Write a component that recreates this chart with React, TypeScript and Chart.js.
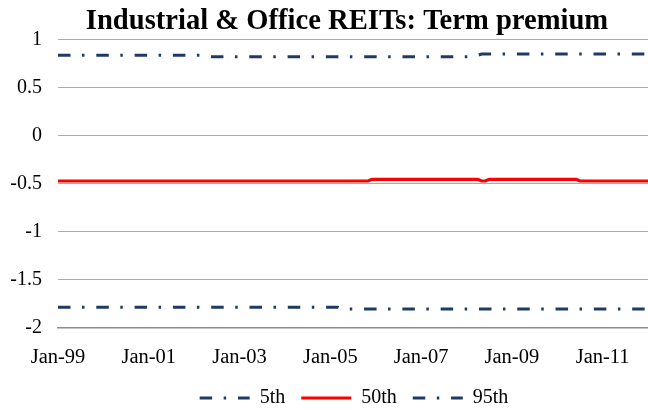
import React, { useEffect, useRef } from "react";
import { Chart, registerables } from "chart.js";

Chart.register(...registerables);

const TITLE = "Industrial & Office REITs: Term premium";

const MONTHS = ["Jan", "Feb", "Mar", "Apr", "May", "Jun", "Jul", "Aug", "Sep", "Oct", "Nov", "Dec"];
const YEARS = ["99", "00", "01", "02", "03", "04", "05", "06", "07", "08", "09", "10", "11", "12"];

const xTickLabels = ["Jan-99", "Jan-01", "Jan-03", "Jan-05", "Jan-07", "Jan-09", "Jan-11"];
const yTickLabels = ["1", "0.5", "0", "-0.5", "-1", "-1.5", "-2"];

const seriesNames = ["5th", "50th", "95th"];

// one row per year, Jan-99 .. Jan-12
const p5 = [
  -1.79, -1.79, -1.79, -1.79, -1.79, -1.79, -1.79, -1.79, -1.79, -1.79, -1.79, -1.79,
  -1.79, -1.79, -1.79, -1.79, -1.79, -1.79, -1.79, -1.79, -1.79, -1.79, -1.79, -1.79,
  -1.79, -1.79, -1.79, -1.79, -1.79, -1.79, -1.79, -1.79, -1.79, -1.79, -1.79, -1.79,
  -1.79, -1.79, -1.79, -1.79, -1.79, -1.79, -1.79, -1.79, -1.79, -1.79, -1.79, -1.79,
  -1.79, -1.79, -1.79, -1.79, -1.79, -1.79, -1.79, -1.79, -1.79, -1.79, -1.79, -1.79,
  -1.79, -1.79, -1.79, -1.79, -1.79, -1.79, -1.79, -1.79, -1.79, -1.79, -1.79, -1.79,
  -1.79, -1.79, -1.79, -1.807, -1.807, -1.807, -1.807, -1.807, -1.807, -1.807, -1.807, -1.807,
  -1.807, -1.807, -1.807, -1.807, -1.807, -1.807, -1.807, -1.807, -1.807, -1.807, -1.807, -1.807,
  -1.807, -1.807, -1.807, -1.807, -1.807, -1.807, -1.807, -1.807, -1.807, -1.807, -1.807, -1.807,
  -1.807, -1.807, -1.807, -1.807, -1.807, -1.807, -1.807, -1.807, -1.807, -1.807, -1.807, -1.807,
  -1.807, -1.807, -1.807, -1.807, -1.807, -1.807, -1.807, -1.807, -1.807, -1.807, -1.807, -1.807,
  -1.807, -1.807, -1.807, -1.807, -1.807, -1.807, -1.807, -1.807, -1.807, -1.807, -1.807, -1.807,
  -1.807, -1.807, -1.807, -1.807, -1.807, -1.807, -1.807, -1.807, -1.807, -1.807, -1.807, -1.807,
  -1.807,
];

const p50 = [
  -0.474, -0.474, -0.474, -0.474, -0.474, -0.474, -0.474, -0.474, -0.474, -0.474, -0.474, -0.474,
  -0.474, -0.474, -0.474, -0.474, -0.474, -0.474, -0.474, -0.474, -0.474, -0.474, -0.474, -0.474,
  -0.474, -0.474, -0.474, -0.474, -0.474, -0.474, -0.474, -0.474, -0.474, -0.474, -0.474, -0.474,
  -0.474, -0.474, -0.474, -0.474, -0.474, -0.474, -0.474, -0.474, -0.474, -0.474, -0.474, -0.474,
  -0.474, -0.474, -0.474, -0.474, -0.474, -0.474, -0.474, -0.474, -0.474, -0.474, -0.474, -0.474,
  -0.474, -0.474, -0.474, -0.474, -0.474, -0.474, -0.474, -0.474, -0.474, -0.474, -0.474, -0.474,
  -0.474, -0.474, -0.474, -0.474, -0.474, -0.474, -0.474, -0.474, -0.474, -0.474, -0.474, -0.456,
  -0.456, -0.456, -0.456, -0.456, -0.456, -0.456, -0.456, -0.456, -0.456, -0.456, -0.456, -0.456,
  -0.456, -0.456, -0.456, -0.456, -0.456, -0.456, -0.456, -0.456, -0.456, -0.456, -0.456, -0.456,
  -0.456, -0.456, -0.456, -0.456, -0.474, -0.474, -0.456, -0.456, -0.456, -0.456, -0.456, -0.456,
  -0.456, -0.456, -0.456, -0.456, -0.456, -0.456, -0.456, -0.456, -0.456, -0.456, -0.456, -0.456,
  -0.456, -0.456, -0.456, -0.456, -0.456, -0.456, -0.474, -0.474, -0.474, -0.474, -0.474, -0.474,
  -0.474, -0.474, -0.474, -0.474, -0.474, -0.474, -0.474, -0.474, -0.474, -0.474, -0.474, -0.474,
  -0.474,
];

const p95 = [
  0.835, 0.835, 0.835, 0.835, 0.835, 0.835, 0.835, 0.835, 0.835, 0.835, 0.835, 0.835,
  0.835, 0.835, 0.835, 0.835, 0.835, 0.835, 0.835, 0.835, 0.835, 0.835, 0.835, 0.835,
  0.835, 0.835, 0.835, 0.835, 0.835, 0.835, 0.835, 0.835, 0.835, 0.835, 0.835, 0.835,
  0.835, 0.835, 0.835, 0.835, 0.821, 0.821, 0.821, 0.821, 0.821, 0.821, 0.821, 0.821,
  0.821, 0.821, 0.821, 0.821, 0.821, 0.821, 0.821, 0.821, 0.821, 0.821, 0.821, 0.821,
  0.821, 0.821, 0.821, 0.821, 0.821, 0.821, 0.821, 0.821, 0.821, 0.821, 0.821, 0.821,
  0.821, 0.821, 0.821, 0.821, 0.821, 0.821, 0.821, 0.821, 0.821, 0.821, 0.821, 0.821,
  0.821, 0.821, 0.821, 0.821, 0.821, 0.821, 0.821, 0.821, 0.821, 0.821, 0.821, 0.821,
  0.821, 0.821, 0.821, 0.821, 0.821, 0.821, 0.821, 0.821, 0.821, 0.821, 0.821, 0.821,
  0.821, 0.821, 0.821, 0.835, 0.849, 0.849, 0.849, 0.849, 0.849, 0.849, 0.849, 0.849,
  0.849, 0.849, 0.849, 0.849, 0.849, 0.849, 0.849, 0.849, 0.849, 0.849, 0.849, 0.849,
  0.849, 0.849, 0.849, 0.849, 0.849, 0.849, 0.849, 0.849, 0.849, 0.849, 0.849, 0.849,
  0.849, 0.849, 0.849, 0.849, 0.849, 0.849, 0.849, 0.849, 0.849, 0.849, 0.849, 0.849,
  0.849,
];

const categories: string[] = [];
YEARS.forEach((y) => MONTHS.forEach((m) => categories.push(`${m}-${y}`)));
categories.length = p5.length;

const NAVY = "#1F3B63";
const RED = "#FF0000";
const DASH_DOT = [12.5, 11.5, 2.5, 11.8];
const FONT = '"Liberation Serif", "Times New Roman", serif';

const shiftPlugin = {
  id: "shiftBoxes",
  afterLayout(chart: any) {
    const l = chart.legend;
    if (l) {
      l.left += 30;
      l.right += 30;
      l.top += 8;
      l.bottom += 8;
    }
    const t = chart.titleBlock;
    if (t) {
      t.left += 23;
      t.right += 23;
    }
  },
};

export default function App() {
  const ref = useRef<HTMLCanvasElement>(null);

  useEffect(() => {
    if (!ref.current) return;
    const chart = new Chart(ref.current, {
      type: "line",
      data: {
        labels: categories,
        datasets: [
          {
            label: seriesNames[0],
            data: p5,
            borderColor: NAVY,
            backgroundColor: NAVY,
            borderWidth: 3,
            borderDash: DASH_DOT,
            borderCapStyle: "butt",
            pointRadius: 0,
            tension: 0,
          },
          {
            label: seriesNames[1],
            data: p50,
            borderColor: RED,
            backgroundColor: RED,
            borderWidth: 3.2,
            pointRadius: 0,
            tension: 0,
          },
          {
            label: seriesNames[2],
            data: p95,
            borderColor: NAVY,
            backgroundColor: NAVY,
            borderWidth: 3,
            borderDash: DASH_DOT,
            borderCapStyle: "butt",
            pointRadius: 0,
            tension: 0,
          },
        ],
      },
      options: {
        responsive: false,
        animation: false,
        devicePixelRatio: 1,
        layout: { padding: { top: 0, left: 0, right: 0, bottom: 0 } },
        plugins: {
          tooltip: { enabled: false },
          title: {
            display: true,
            text: TITLE,
            color: "#000",
            font: { family: FONT, size: 28.6, weight: "bold", lineHeight: 1.2 },
            padding: { top: 4, bottom: 1.2 },
          },
          legend: {
            display: true,
            position: "bottom",
            labels: {
              usePointStyle: true,
              pointStyle: "line",
              pointStyleWidth: 50,
              padding: 16,
              color: "#000",
              font: { family: FONT, size: 20 },
              generateLabels: (c: any) =>
                c.data.datasets.map((ds: any, i: number) => ({
                  text: ds.label,
                  fillStyle: ds.borderColor,
                  strokeStyle: ds.borderColor,
                  lineWidth: ds.borderWidth,
                  lineDash: ds.borderDash || [],
                  lineCap: "butt",
                  pointStyle: "line",
                  hidden: false,
                  fontColor: "#000",
                  datasetIndex: i,
                })),
            },
          },
        },
        scales: {
          x: {
            type: "category",
            offset: false,
            grid: { display: false, drawTicks: false },
            border: { display: true, color: "#8C8C8C", width: 1.5 },
            ticks: {
              autoSkip: false,
              maxRotation: 0,
              minRotation: 0,
              padding: 18,
              color: "#000",
              font: { family: FONT, size: 20.5 },
              callback: (_v: any, idx: number) =>
                xTickLabels.includes(categories[idx]) ? categories[idx] : "",
            },
            afterFit: (s: any) => {
              s.height = 36.5;
              s.paddingLeft = 0;
              s.paddingRight = 0;
            },
          },
          y: {
            min: -2,
            max: 1,
            grid: { color: "#ABABAB", lineWidth: 1, drawTicks: false },
            border: { display: false },
            ticks: {
              stepSize: 0.5,
              padding: 16,
              color: "#000",
              font: { family: FONT, size: 20 },
              callback: (v: any) => {
                const s = String(Math.round(Number(v) * 10) / 10);
                return yTickLabels.includes(s) ? s : "";
              },
            },
            afterFit: (s: any) => {
              s.width = 58;
            },
          },
        },
      },
      plugins: [shiftPlugin],
    });
    return () => chart.destroy();
  }, []);

  return (
    <div style={{ position: "absolute", left: 0, top: 0, width: 648, height: 410, background: "#fff" }}>
      <canvas ref={ref} width={648} height={410} />
    </div>
  );
}
